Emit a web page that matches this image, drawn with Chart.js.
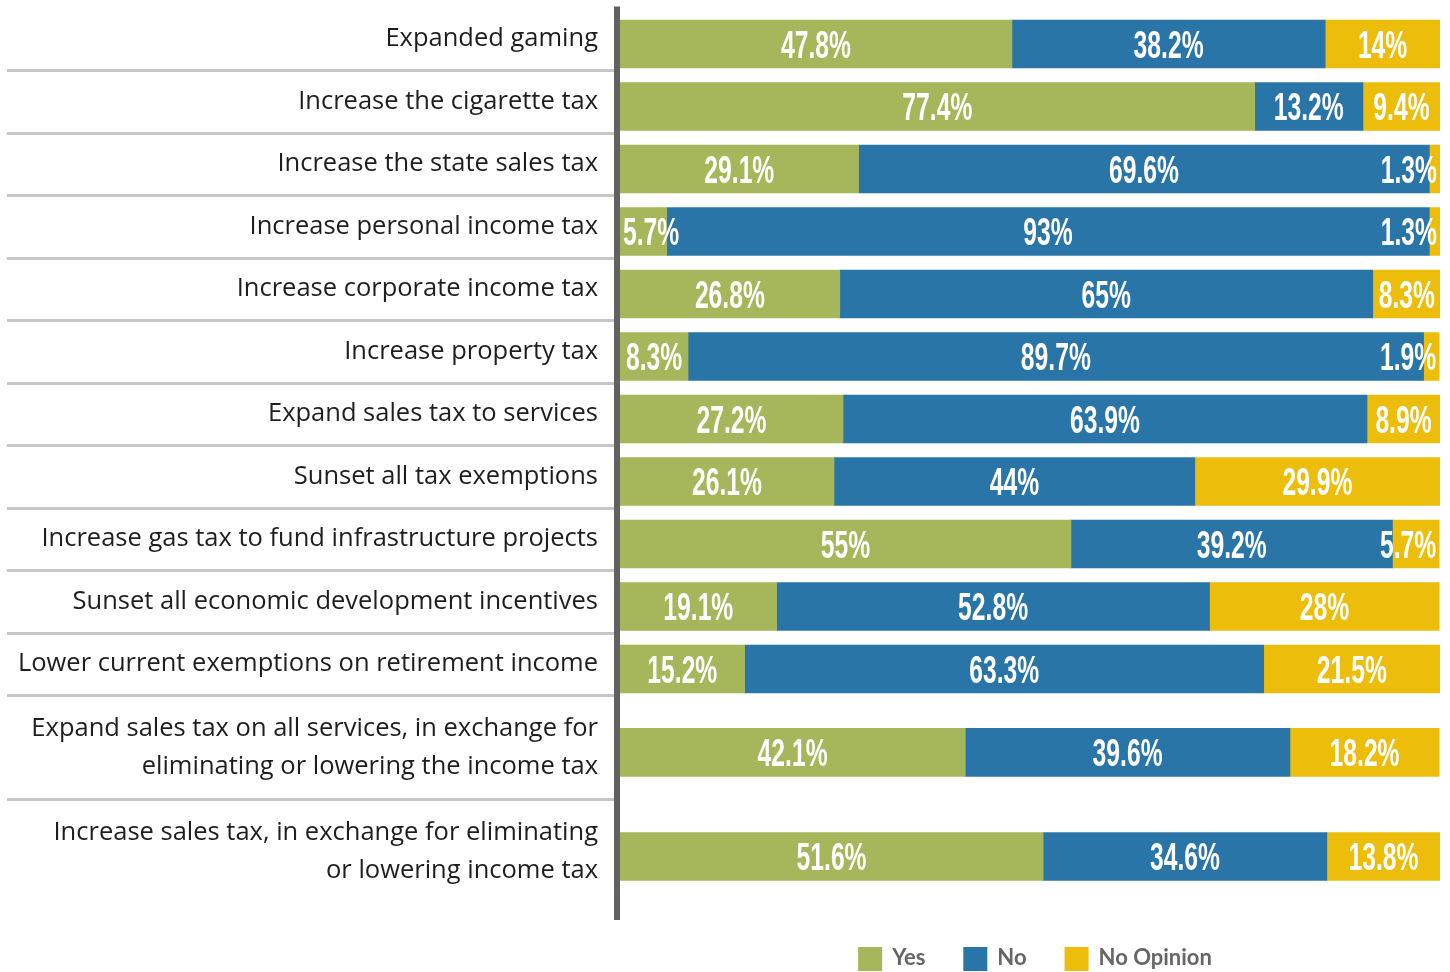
<!DOCTYPE html>
<html>
<head>
<meta charset="utf-8">
<script src="https://cdn.jsdelivr.net/npm/chart.js@4/dist/chart.umd.min.js"></script>
<style>
  html, body { margin: 0; padding: 0; background: #ffffff; }
  #wrap { width: 1450px; height: 972px; position: relative; }
</style>
</head>
<body>
<div id="wrap"><canvas id="c" width="1450" height="972"></canvas></div>
<script>
// ---- data ----
const categories = [
  "Expanded gaming",
  "Increase the cigarette tax",
  "Increase the state sales tax",
  "Increase personal income tax",
  "Increase corporate income tax",
  "Increase property tax",
  "Expand sales tax to services",
  "Sunset all tax exemptions",
  "Increase gas tax to fund infrastructure projects",
  "Sunset all economic development incentives",
  "Lower current exemptions on retirement income",
  ["Expand sales tax on all services, in exchange for", "eliminating or lowering the income tax"],
  ["Increase sales tax, in exchange for eliminating", "or lowering income tax"]
];
const yesValues       = [47.8, 77.4, 29.1, 5.7, 26.8, 8.3, 27.2, 26.1, 55, 19.1, 15.2, 42.1, 51.6];
const noValues        = [38.2, 13.2, 69.6, 93, 65, 89.7, 63.9, 44, 39.2, 52.8, 63.3, 39.6, 34.6];
const noOpinionValues = [14, 9.4, 1.3, 1.3, 8.3, 1.9, 8.9, 29.9, 5.7, 28, 21.5, 18.2, 13.8];
const seriesNames = ["Yes", "No", "No Opinion"];

// ---- layout helpers (rows with two-line labels get more room) ----
const SLOT_SINGLE = 3, SLOT_DOUBLE = 5;
const rowCenters = [];
const rowBoundaries = [];
(function () {
  let acc = 0;
  categories.forEach((c, i) => {
    const h = Array.isArray(c) ? SLOT_DOUBLE : SLOT_SINGLE;
    rowCenters.push(acc + h / 2);
    acc += h;
    if (i < categories.length - 1) rowBoundaries.push(acc);
  });
})();

const colors = ["#a5b75a", "#2a75a7", "#ecbe0b"];
const seriesValues = [yesValues, noValues, noOpinionValues];

const datasets = seriesNames.map((name, s) => ({
  label: name,
  data: seriesValues[s].map((v, i) => ({ x: v, y: rowCenters[i] })),
  backgroundColor: colors[s],
  borderWidth: 0,
  barThickness: 48
}));

const LABEL_SHIFT = -5;

const decorPlugin = {
  id: 'decor',
  beforeDatasetsDraw(chart) {
    const ctx = chart.ctx;
    const ys = chart.scales.y;
    const ca = chart.chartArea;
    ctx.save();
    ctx.strokeStyle = '#c6c6c6';
    ctx.lineWidth = 3;
    rowBoundaries.forEach(b => {
      const py = Math.round(ys.getPixelForValue(b) + LABEL_SHIFT) + 0.5;
      ctx.beginPath();
      ctx.moveTo(7, py);
      ctx.lineTo(ca.left - 6, py);
      ctx.stroke();
    });
    ctx.fillStyle = '#616161';
    ctx.fillRect(ca.left - 6, ca.top, 6, ca.bottom - ca.top);
    ctx.restore();
  },
  afterDatasetsDraw(chart) {
    const ctx = chart.ctx;
    const metas = chart.data.datasets.map((d, i) => chart.getDatasetMeta(i));
    ctx.save();
    ctx.font = 'bold 38px "Liberation Sans Narrow", "Liberation Sans", sans-serif';
    const sx = 70 / ctx.measureText('27.2%').width;
    ctx.fillStyle = '#ffffff';
    ctx.textAlign = 'center';
    ctx.textBaseline = 'alphabetic';
    for (let i = 0; i < categories.length; i++) {
      const first = metas[0].data[i];
      const last = metas[metas.length - 1].data[i];
      const barL = Math.min(first.base, first.x);
      const barR = Math.max(last.x, last.base);
      metas.forEach((m, di) => {
        const el = m.data[i];
        const txt = seriesValues[di][i] + '%';
        const w = ctx.measureText(txt).width * sx;
        let cx = (el.x + el.base) / 2;
        cx = Math.min(barR - 3 - w / 2, cx);
        cx = Math.max(barL + 3 + w / 2, cx);
        ctx.save();
        ctx.translate(cx, el.y + 14);
        ctx.scale(sx, 1);
        ctx.fillText(txt, 0, 0);
        ctx.restore();
      });
    }
    ctx.restore();
  },
  afterDraw(chart) {
    const ctx = chart.ctx;
    const ca = chart.chartArea;
    ctx.save();
    ctx.font = 'bold 22px Lato, "Open Sans", sans-serif';
    const box = 24, gap = 10, spacing = 38;
    const items = chart.data.datasets.map(d => ({ label: d.label, color: d.backgroundColor, w: box + gap + ctx.measureText(d.label).width }));
    const total = items.reduce((a, it) => a + it.w, 0) + spacing * (items.length - 1);
    let x = (ca.left + chart.width) / 2 - total / 2;
    const top = ca.bottom + 27;
    ctx.textBaseline = 'alphabetic';
    ctx.textAlign = 'left';
    items.forEach(it => {
      ctx.fillStyle = it.color;
      ctx.fillRect(x, top, box, box);
      ctx.fillStyle = '#666666';
      ctx.fillText(it.label, x + box + gap, top + 17.5);
      x += it.w + spacing;
    });
    ctx.restore();
  }
};

new Chart(document.getElementById('c'), {
  type: 'bar',
  data: { datasets },
  options: {
    indexAxis: 'y',
    responsive: false,
    animation: false,
    layout: { padding: { top: 6.5, bottom: 52, right: 10, left: 0 } },
    plugins: { legend: { display: false }, tooltip: { enabled: false } },
    scales: {
      x: {
        stacked: true,
        min: 0, max: 100,
        display: false,
        grid: { display: false }
      },
      y: {
        type: 'linear',
        stacked: true,
        reverse: true,
        offset: false,
        min: -0.3,
        max: 43.55,
        grid: { display: false, drawTicks: false, offset: false },
        border: { display: false },
        afterBuildTicks(scale) {
          scale.ticks = rowCenters.map(v => ({ value: v }));
        },
        afterFit(scale) {
          scale.width = 620;
          scale.paddingTop = 0;
          scale.paddingBottom = 0;
        },
        ticks: {
          autoSkip: false,
          padding: 22,
          labelOffset: LABEL_SHIFT,
          color: '#1e1e1e',
          font: { family: '"Open Sans"', size: 25.5, weight: 400, lineHeight: 1.49 },
          callback(value, index) { return categories[index]; }
        }
      }
    }
  },
  plugins: [decorPlugin]
});
</script>
</body>
</html>
